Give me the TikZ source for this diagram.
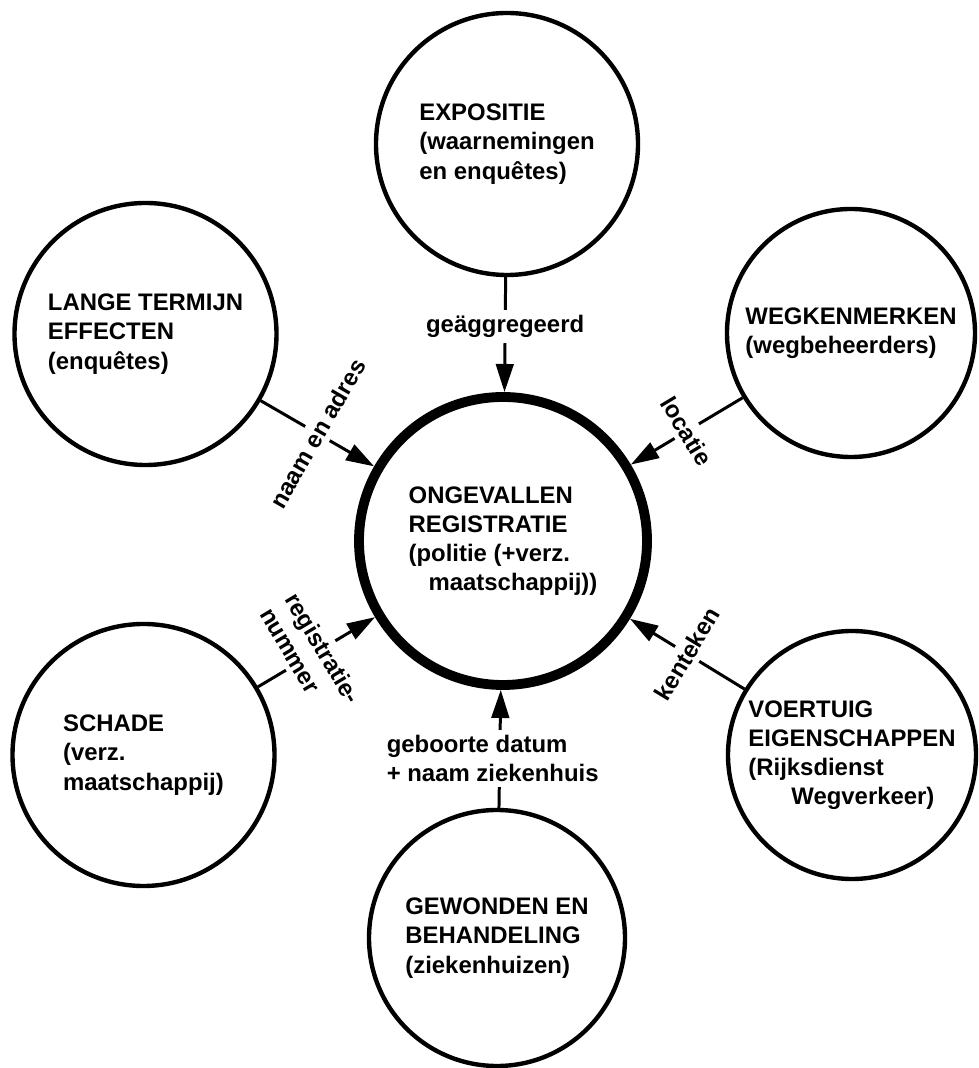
\documentclass[tikz,border=0pt]{standalone}
\usepackage{fontspec}
\setmainfont{Liberation Sans}
\usepackage{tikz}
\usetikzlibrary{arrows.meta}
\tikzset{bron/.style={circle,draw,line width=1.25pt,inner sep=0pt,align=left}}
\tikzset{kern/.style={circle,draw,line width=2.8pt,inner sep=0pt,align=left,minimum size=2.88cm}}
\tikzset{koppel/.style={-{Triangle[length=8pt,width=5pt]},line width=0.85pt}}
\tikzset{tag/.style={fill=white,inner sep=1.5pt,align=left}}

\begin{document}
\begin{tikzpicture}[font=\fontsize{6.8}{8.3}\selectfont\bfseries]
    \useasboundingbox (0,0) rectangle (9.79,10.68);
    \node[kern] (reg) at (5.03,5.27) {ONGEVALLEN\\REGISTRATIE\\(politie (+verz.\\\hspace*{2mm}maatschappij))};
    \node[bron,minimum size=2.62cm] (expo) at (5.07,9.24) {EXPOSITIE\\(waarnemingen\\en enquêtes)};
    \node[bron,minimum size=2.62cm] (lange) at (1.455,7.34) {LANGE TERMIJN\\EFFECTEN\\(enquêtes)};
    \node[bron,minimum size=2.48cm] (weg) at (8.51,7.35) {WEGKENMERKEN\\(wegbeheerders)};
    \node[bron,minimum size=2.62cm] (schade) at (1.435,3.13) {SCHADE\\(verz.\\maatschappij)};
    \node[bron,minimum size=2.48cm] (voer) at (8.52,3.13) {VOERTUIG\\EIGENSCHAPPEN\\(Rijksdienst\\\hspace*{4.3mm}Wegverkeer)};
    \node[bron,minimum size=2.56cm] (gew) at (4.97,1.30) {GEWONDEN EN\\BEHANDELING\\(ziekenhuizen)};
    \draw[koppel] (expo) -- node[tag,pos=0.43] {geäggregeerd} (reg);
    \draw[koppel] (lange) -- node[tag,rotate=60] {naam en adres} (reg);
    \draw[koppel] (weg) -- node[tag,rotate=-59] {locatie} (reg);
    \draw[koppel] (schade) -- node[tag,rotate=-59,pos=0.45] {registratie-\\nummer} (reg);
    \draw[koppel] (voer) -- node[tag,rotate=59] {kenteken} (reg);
    \draw[koppel] (gew) -- node[tag,pos=0.42,xshift=-0.7mm] {geboorte datum\\+ naam ziekenhuis} (reg);
\end{tikzpicture}
\end{document}
